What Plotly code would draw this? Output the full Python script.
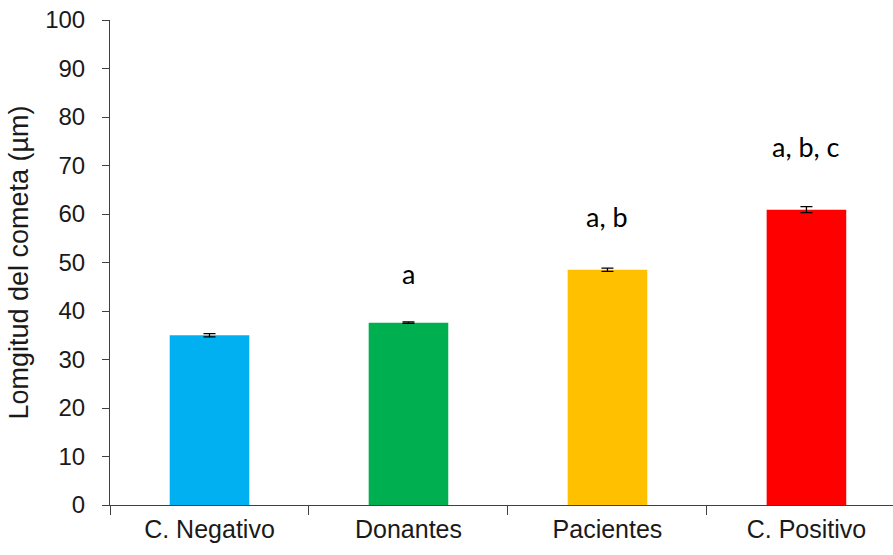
import plotly.graph_objects as go

# Comet assay: mean tail length per group
groups = ["C. Negativo", "Donantes", "Pacientes", "C. Positivo"]
means = [35.0, 37.6, 48.5, 60.9]
errors = [0.35, 0.15, 0.35, 0.6]
colors = ["#00B0F0", "#00B050", "#FFC000", "#FF0000"]

# Significance letters above bars
sig_groups = ["Donantes", "Pacientes", "C. Positivo"]
sig_labels = ["a", "a, b", "a, b, c"]
sig_y = [47.8, 59.4, 73.9]

fig = go.Figure()
fig.add_trace(go.Bar(
    x=groups, y=means,
    marker=dict(color=colors, line=dict(width=0)),
    width=0.4,
    error_y=dict(type="data", array=errors, visible=True,
                 color="black", thickness=1.3, width=6),
    showlegend=False,
))

for g, lab, yv in zip(sig_groups, sig_labels, sig_y):
    fig.add_annotation(x=g, y=yv, text=lab, showarrow=False,
                       font=dict(family="Lato, Open Sans, sans-serif", size=27, color="black"),
                       xanchor="center", yanchor="middle")

axis_color = "#404040"
fig.update_layout(
    width=893, height=555,
    margin=dict(l=110, r=0, t=20, b=50),
    plot_bgcolor="white", paper_bgcolor="white",
    font=dict(family="Liberation Sans, Arial, sans-serif", size=24, color="#1a1a1a"),
    xaxis=dict(
        range=[-0.5, 3.435],
        showline=True, linecolor=axis_color, linewidth=1,
        ticks="outside", tickson="boundaries", ticklen=9, tickcolor=axis_color,
        showgrid=False, zeroline=False,
        tickfont=dict(size=25),
        ticklabelstandoff=2,
    ),
    yaxis=dict(
        range=[0, 100], dtick=10,
        showline=True, linecolor=axis_color, linewidth=1,
        ticks="outside", ticklen=7, tickcolor=axis_color,
        showgrid=False, zeroline=False,
        tickfont=dict(size=24),
        ticklabelstandoff=12,
        title=dict(text="Lomgitud del cometa (µm)", font=dict(size=27), standoff=8),
    ),
)

fig.write_html("out.html")
